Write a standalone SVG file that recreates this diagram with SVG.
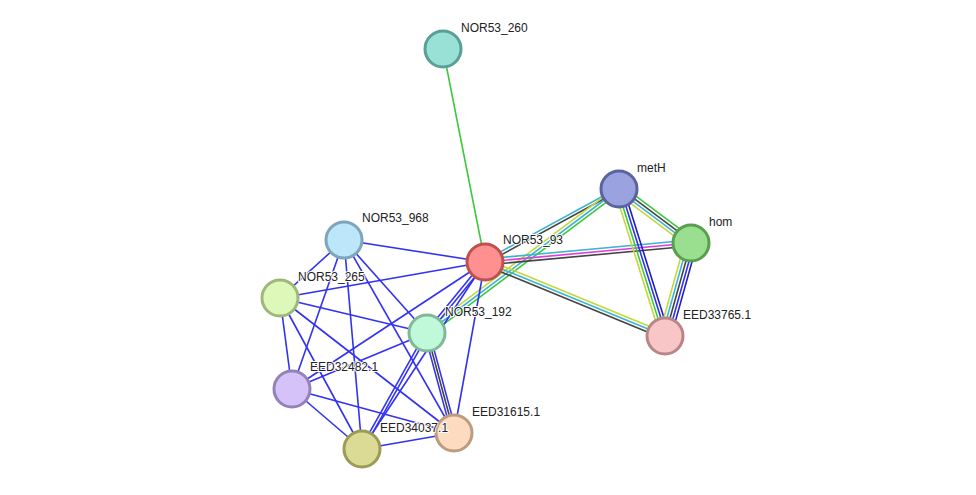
<svg xmlns="http://www.w3.org/2000/svg" width="976" height="495" viewBox="0 0 976 495">
<style>
.e line{stroke-width:1.6;fill:none}
.b{stroke:#3232f0}.k{stroke:#444}.g{stroke:#3cc83c}.c{stroke:#3cb4d2}.y{stroke:#c3d83c}.m{stroke:#e03ce0}.db{stroke:#2020c0}
.n circle{stroke-width:3}
text{font-family:"Liberation Sans",Arial,sans-serif;font-size:12px;fill:#222;paint-order:stroke;stroke:#fff;stroke-width:2px}
</style>
<rect width="976" height="495" fill="#fff"/>
<g id="connectors" class="e">
<line class="g" x1="443" y1="49" x2="485" y2="262"/>
<line class="c" x1="484.3" y1="260.7" x2="618.3" y2="187.7"/>
<line class="k" x1="485.7" y1="263.3" x2="619.7" y2="190.3"/>
<line class="y" x1="425.2" y1="330.6" x2="617.2" y2="186.6"/>
<line class="c" x1="427" y1="333" x2="619" y2="189"/>
<line class="g" x1="428.8" y1="335.4" x2="620.8" y2="191.4"/>
<line class="c" x1="484.7" y1="259" x2="690.7" y2="240"/>
<line class="m" x1="485" y1="262" x2="691" y2="243"/>
<line class="k" x1="485.3" y1="265" x2="691.3" y2="246"/>
<line class="y" x1="486.1" y1="259.2" x2="666.1" y2="333.2"/>
<line class="c" x1="485" y1="262" x2="665" y2="336"/>
<line class="k" x1="483.9" y1="264.8" x2="663.9" y2="338.8"/>
<line class="g" x1="621.7" y1="185.4" x2="693.7" y2="239.4"/>
<line class="k" x1="619.9" y1="187.8" x2="691.9" y2="241.8"/>
<line class="c" x1="618.1" y1="190.2" x2="690.1" y2="244.2"/>
<line class="y" x1="616.3" y1="192.6" x2="688.3" y2="246.6"/>
<line class="y" x1="614.7" y1="190.3" x2="660.7" y2="337.3"/>
<line class="g" x1="617.6" y1="189.4" x2="663.6" y2="336.4"/>
<line class="b" x1="620.4" y1="188.6" x2="666.4" y2="335.6"/>
<line class="db" x1="623.3" y1="187.7" x2="669.3" y2="334.7"/>
<line class="y" x1="685.2" y1="241.4" x2="659.2" y2="334.4"/>
<line class="c" x1="688.1" y1="242.2" x2="662.1" y2="335.2"/>
<line class="k" x1="691" y1="243" x2="665" y2="336"/>
<line class="b" x1="693.9" y1="243.8" x2="667.9" y2="336.8"/>
<line class="db" x1="696.8" y1="244.6" x2="670.8" y2="337.6"/>
<line class="b" x1="486.2" y1="263" x2="428.2" y2="334"/>
<line class="b" x1="483.8" y1="261" x2="425.8" y2="332"/>
<line class="b" x1="429.4" y1="332.4" x2="456.4" y2="432.4"/>
<line class="k" x1="427" y1="333" x2="454" y2="433"/>
<line class="b" x1="424.6" y1="333.6" x2="451.6" y2="433.6"/>
<line class="b" x1="428.3" y1="333.7" x2="363.3" y2="449.7"/>
<line class="b" x1="425.7" y1="332.3" x2="360.7" y2="448.3"/>
<line class="b" x1="344" y1="240" x2="485" y2="262"/>
<line class="b" x1="344" y1="240" x2="280" y2="298"/>
<line class="b" x1="344" y1="240" x2="427" y2="333"/>
<line class="b" x1="344" y1="240" x2="292" y2="389"/>
<line class="b" x1="344" y1="240" x2="362" y2="449"/>
<line class="b" x1="344" y1="240" x2="454" y2="433"/>
<line class="b" x1="280" y1="298" x2="485" y2="262"/>
<line class="b" x1="280" y1="298" x2="427" y2="333"/>
<line class="b" x1="280" y1="298" x2="292" y2="389"/>
<line class="b" x1="280" y1="298" x2="362" y2="449"/>
<line class="b" x1="280" y1="298" x2="454" y2="433"/>
<line class="b" x1="485" y1="262" x2="292" y2="389"/>
<line class="b" x1="485" y1="262" x2="362" y2="449"/>
<line class="b" x1="485" y1="262" x2="454" y2="433"/>
<line class="b" x1="427" y1="333" x2="292" y2="389"/>
<line class="b" x1="292" y1="389" x2="362" y2="449"/>
<line class="b" x1="292" y1="389" x2="454" y2="433"/>
<line class="b" x1="362" y1="449" x2="454" y2="433"/>
</g>
<g id="NOR53_260" class="n"><circle cx="443" cy="49" r="18" fill="#99e0d6" stroke="#5a9e96"/><text x="461" y="32">NOR53_260</text></g>
<g id="metH" class="n"><circle cx="619" cy="189" r="18" fill="#9aa3e0" stroke="#5a63a0"/><text x="637" y="172">metH</text></g>
<g id="hom" class="n"><circle cx="691" cy="243" r="18" fill="#9ade90" stroke="#5a9e50"/><text x="709" y="226">hom</text></g>
<g id="NOR53_93" class="n"><circle cx="485" cy="262" r="18" fill="#ff9090" stroke="#bf5050"/><text x="503" y="244">NOR53_93</text></g>
<g id="NOR53_968" class="n"><circle cx="344" cy="240" r="18" fill="#bde6fa" stroke="#7da6ba"/><text x="362" y="222">NOR53_968</text></g>
<g id="NOR53_265" class="n"><circle cx="280" cy="298" r="18" fill="#ddf8b8" stroke="#9db878"/><text x="298" y="281">NOR53_265</text></g>
<g id="NOR53_192" class="n"><circle cx="427" cy="333" r="18" fill="#c0f8da" stroke="#80b89a"/><text x="445" y="316">NOR53_192</text></g>
<g id="EED33765.1" class="n"><circle cx="665" cy="336" r="18" fill="#f8c6c6" stroke="#b88686"/><text x="683" y="319">EED33765.1</text></g>
<g id="EED32482.1" class="n"><circle cx="292" cy="389" r="18" fill="#d4c2f8" stroke="#9482b8"/><text x="310" y="371">EED32482.1</text></g>
<g id="EED31615.1" class="n"><circle cx="454" cy="433" r="18" fill="#fcdbc0" stroke="#bc9b80"/><text x="472" y="416">EED31615.1</text></g>
<g id="EED34037.1" class="n"><circle cx="362" cy="449" r="18" fill="#dcdb95" stroke="#9c9b55"/><text x="380" y="432">EED34037.1</text></g>
</svg>
